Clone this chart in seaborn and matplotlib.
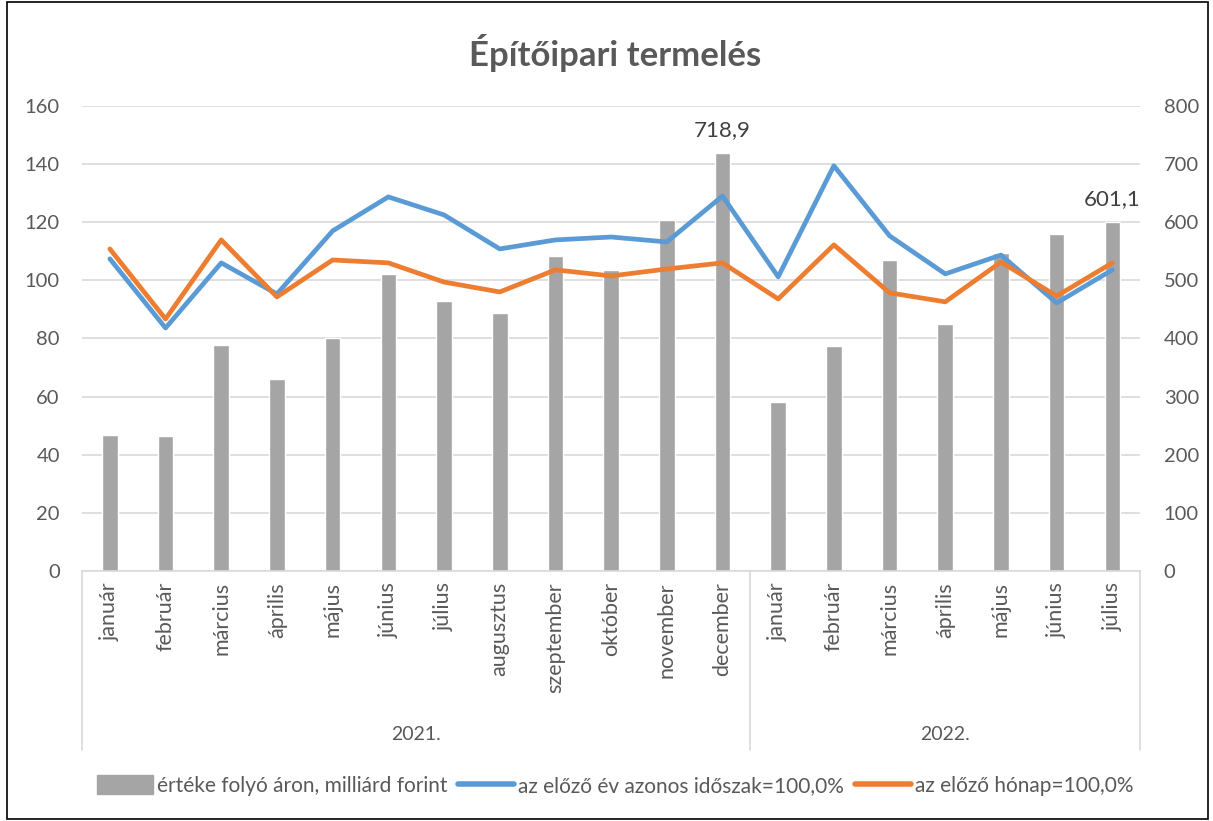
import numpy as np
import pandas as pd
import seaborn as sns
import matplotlib.pyplot as plt
from matplotlib.patches import Rectangle, Patch
from matplotlib.lines import Line2D

months = ['január', 'február', 'március', 'április', 'május', 'június', 'július',
          'augusztus', 'szeptember', 'október', 'november', 'december',
          'január', 'február', 'március', 'április', 'május', 'június', 'július']
years = ['2021.'] * 12 + ['2022.'] * 7
value = [234, 232, 389, 330, 401, 511, 465, 444, 542, 518, 604, 718.9,
         291, 387, 535, 425, 547, 580, 601.1]
yoy = [107.4, 83.6, 106.0, 95.3, 117.0, 128.7, 122.5, 110.8, 113.9, 114.9, 113.2, 129.0,
       101.2, 139.4, 115.3, 102.2, 108.7, 92.2, 103.6]
mom = [110.8, 86.7, 113.9, 94.3, 107.0, 106.0, 99.4, 96.0, 103.6, 101.5, 103.9, 106.0,
       93.6, 112.2, 95.7, 92.6, 106.3, 94.6, 106.0]

labels = ['értéke folyó áron, milliárd forint', 'az előző év azonos időszak=100,0%',
          'az előző hónap=100,0%']
title = 'Építőipari termelés'

df = pd.DataFrame({'pos': np.arange(len(months)), 'month': months, 'year': years,
                   'value': value, 'yoy': yoy, 'mom': mom})
df['cat'] = df['pos'].astype(str)

sns.set_style('white')
plt.rcParams['font.family'] = ['Lato', 'DejaVu Sans']
text_col = '#595959'
grid_col = '#d9d9d9'

fig = plt.figure(figsize=(12.13, 8.21), dpi=100)
ax = fig.add_axes([0.0676, 0.3045, 0.8724, 0.5665])
ax2 = ax.twinx()

# bars on the base axes (right scale), lines on the twin (left scale) so lines sit on top
sns.barplot(data=df, x='cat', y='value', color='#a5a5a5', saturation=1, width=0.28,
            ax=ax, order=df['cat'])
ax.set_ylim(0, 800)
ax.set_yticks(np.arange(0, 801, 100))
ax.yaxis.tick_right()
ax.grid(axis='y', color=grid_col, linewidth=1.2)
ax.set_axisbelow(True)
ax.set_xlim(-0.5, len(months) - 0.5)
ax.set_xlabel('')
ax.set_ylabel('')
ax.set_xticks(df['pos'])
ax.set_xticklabels(months, rotation=90, fontsize=15.5, color=text_col)
ax.tick_params(axis='y', labelsize=14.5, labelcolor=text_col, length=0, pad=17)
ax.tick_params(axis='x', length=0, pad=8)
for s in ['top', 'left', 'right']:
    ax.spines[s].set_visible(False)
ax.spines['bottom'].set_color(grid_col)
ax.spines['bottom'].set_linewidth(1.2)

for i in [11, 18]:
    ax.text(i, value[i] + 22, f'{value[i]:.1f}'.replace('.', ','), ha='center',
            va='bottom', fontsize=16, color='#404040')

sns.lineplot(data=df, x='pos', y='yoy', color='#5b9bd5', linewidth=3.4, ax=ax2)
sns.lineplot(data=df, x='pos', y='mom', color='#ed7d31', linewidth=3.4, ax=ax2)
ax2.set_ylim(0, 160)
ax2.set_yticks(np.arange(0, 161, 20))
ax2.yaxis.tick_left()
ax2.tick_params(axis='y', labelsize=14.5, labelcolor=text_col, length=0, pad=16)
ax2.set_xlim(-0.5, len(months) - 0.5)
ax2.set_xlabel('')
ax2.set_ylabel('')
for s in ax2.spines.values():
    s.set_visible(False)

# multi-level category axis: separators and year labels
tr = ax.get_xaxis_transform()
for xs in [-0.5, 11.5, len(months) - 0.5]:
    ax.plot([xs, xs], [0, -0.385], transform=tr, color=grid_col, lw=1.2, clip_on=False)
ax.text(5.5, -0.352, '2021.', transform=tr, ha='center', va='center', fontsize=14,
        color=text_col)
ax.text(15, -0.352, '2022.', transform=tr, ha='center', va='center', fontsize=14,
        color=text_col)

fig.text(0.507, 0.936, title, ha='center', va='center', fontsize=25, fontweight='bold',
         color=text_col)

handles = [Patch(color='#a5a5a5'),
           Line2D([0], [0], color='#5b9bd5', lw=4),
           Line2D([0], [0], color='#ed7d31', lw=4)]
fig.legend(handles, labels, loc='center', bbox_to_anchor=(0.507, 0.043), ncol=3,
           frameon=False, fontsize=15, labelcolor=text_col, handlelength=2.7,
           handleheight=1.0, handletextpad=0.2, columnspacing=0.5)

fig.add_artist(Rectangle((0.006, 0.002), 0.99, 0.996, transform=fig.transFigure,
                         fill=False, edgecolor='black', lw=1.2))

fig.savefig('out.png', dpi=100)
